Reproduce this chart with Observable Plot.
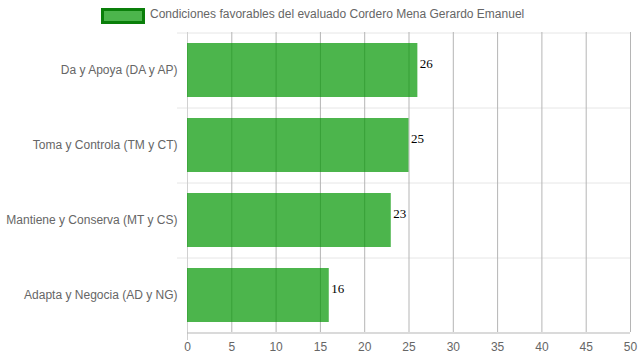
<!DOCTYPE html>
<html>
<head>
<meta charset="utf-8">
<script src="https://cdn.jsdelivr.net/npm/d3@7"></script>
<script src="https://cdn.jsdelivr.net/npm/@observablehq/plot@0.6"></script>
<style>
  html, body { margin: 0; padding: 0; background: #fff; }
  #wrap { width: 639px; height: 360px; position: relative; overflow: hidden; }
  #legend { height: 30px; position: relative; font-family: "Liberation Sans", Arial, sans-serif; font-size: 12px; color: #666; }
  #legend .box { position: absolute; left: 101px; top: 8px; width: 44px; height: 16px; box-sizing: border-box; border: 3px solid #0a7f0a; background: rgba(0,150,0,0.7); }
  #legend .lbl { position: absolute; left: 150px; top: 7px; white-space: nowrap; }
  svg { display: block; }
</style>
</head>
<body>
<div id="wrap">
  <div id="legend"><span class="box"></span><span class="lbl" id="legendText"></span></div>
  <div id="chart"></div>
</div>
<script>
const seriesName = "Condiciones favorables del evaluado Cordero Mena Gerardo Emanuel";
const categories = ["Da y Apoya (DA y AP)", "Toma y Controla (TM y CT)", "Mantiene y Conserva (MT y CS)", "Adapta y Negocia (AD y NG)"];
const values = [26, 25, 23, 16];
const xTicks = [0, 5, 10, 15, 20, 25, 30, 35, 40, 45, 50];

document.getElementById("legendText").textContent = seriesName;

const data = categories.map((c, i) => ({cat: c, value: values[i]}));
const lastCat = [categories[categories.length - 1]];

const chart = Plot.plot({
  width: 639,
  height: 330,
  marginTop: 2,
  marginBottom: 28,
  marginLeft: 187,
  marginRight: 9,
  style: {fontFamily: "'Liberation Sans', Arial, sans-serif", fontSize: "12px", color: "#666", background: "#fff"},
  x: {domain: [0, 50], ticks: xTicks, label: null},
  y: {domain: categories, paddingInner: 0.28, paddingOuter: 0.14, label: null},
  marks: [
    Plot.ruleY(categories, {y: d => d, dy: -37.5, insetLeft: -10, stroke: "#e6e6e6"}),
    Plot.ruleX(xTicks.slice(1), {x: d => d, stroke: "#b5b5b5"}),
    Plot.ruleX([0], {x: d => d, stroke: "#d0d0d0", insetBottom: -8}),
    Plot.barX(data, {x: "value", y: "cat", fill: "rgb(0,150,0)", fillOpacity: 0.7}),
    Plot.ruleY(lastCat, {y: d => d, dy: 37.5, stroke: "#b5b5b5"}),
    Plot.axisX({ticks: xTicks, tickSize: 0, tickPadding: 10, fill: "#666", fontSize: 12, label: null}),
    Plot.axisY({tickSize: 0, tickPadding: 10, fill: "#666", fontSize: 12, label: null}),
    Plot.text(data, {x: "value", y: "cat", text: d => String(d.value), textAnchor: "start", dx: 2, dy: -7, fill: "#000", fontFamily: "'Liberation Serif', 'Times New Roman', serif", fontSize: 13})
  ]
});
document.getElementById("chart").appendChild(chart);
</script>
</body>
</html>
